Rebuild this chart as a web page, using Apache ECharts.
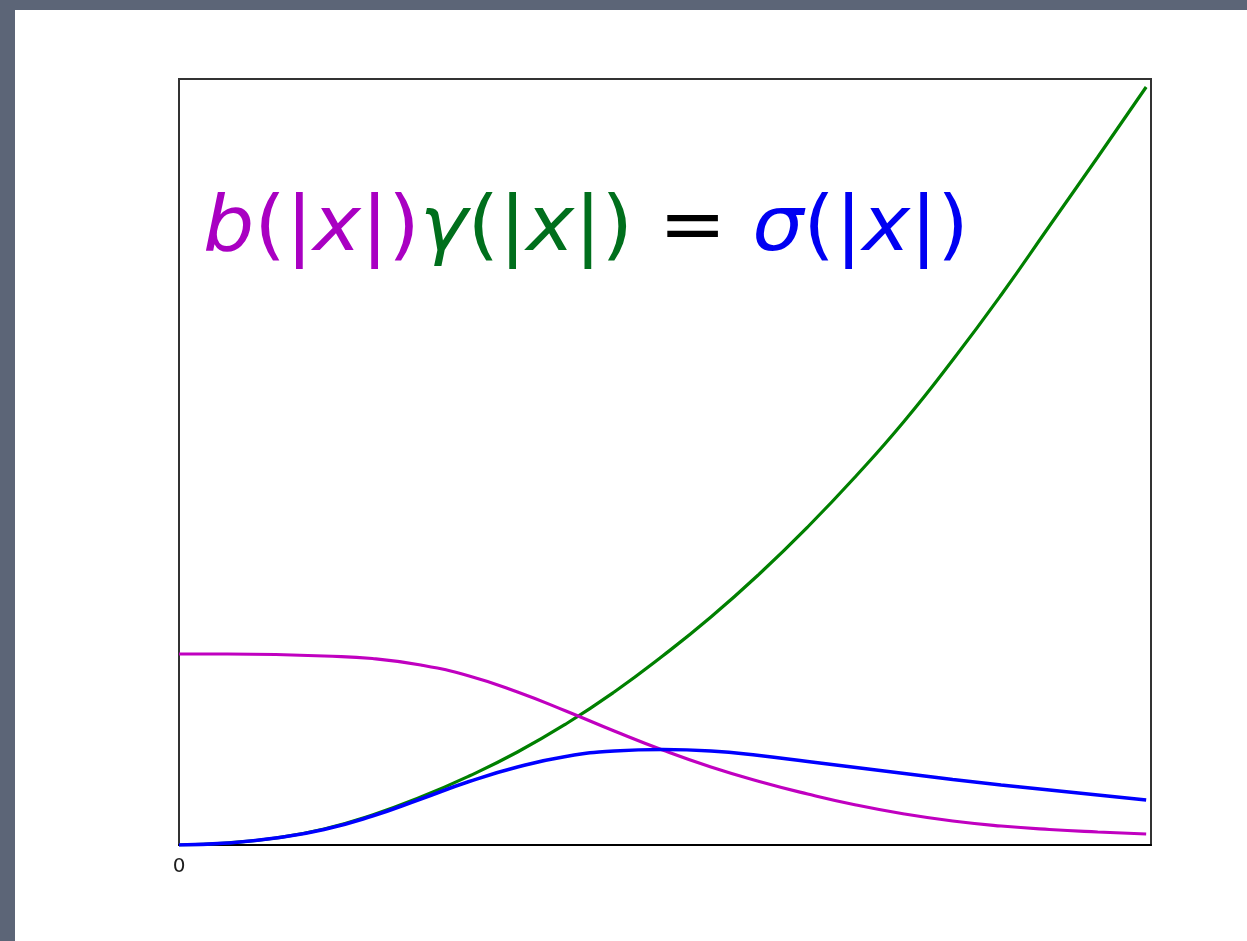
<!DOCTYPE html>
<html>
<head>
<meta charset="utf-8">
<title>b(|x|)γ(|x|) = σ(|x|)</title>
<script src="https://cdn.jsdelivr.net/npm/echarts@6/dist/echarts.min.js"></script>
<style>
  html, body { margin: 0; padding: 0; background: #5c6577; }
  #chart { width: 1247px; height: 941px; }
</style>
</head>
<body>
<div id="chart"></div>
<script>
// Sample positions |x| along the horizontal axis
const xs = [0, 0.5, 1, 1.5, 2, 2.5, 3, 3.5, 4, 4.5, 5, 5.5, 6, 6.5, 7, 7.5, 8, 8.5, 9, 9.5, 10];

// b(|x|): flat plateau, then decays
const bValues = [1.91, 1.91, 1.905, 1.89, 1.865, 1.80, 1.69, 1.53, 1.34, 1.14, 0.95, 0.78, 0.635, 0.51, 0.40, 0.31, 0.24, 0.19, 0.155, 0.13, 0.11];

// γ(|x|): grows roughly quadratically
const gammaValues = [0, 0.02, 0.07, 0.16, 0.30, 0.48, 0.69, 0.93, 1.21, 1.53, 1.89, 2.28, 2.71, 3.18, 3.69, 4.24, 4.85, 5.50, 6.19, 6.88, 7.58];

// σ(|x|): the product, rising to a peak then slowly falling
const sigmaValues = [0, 0.02, 0.07, 0.155, 0.29, 0.46, 0.635, 0.78, 0.885, 0.94, 0.955, 0.94, 0.895, 0.835, 0.775, 0.715, 0.655, 0.60, 0.55, 0.50, 0.45];

// Only the origin carries a tick label
const tickLabels = ['0'];

const pairs = ys => xs.map((x, i) => [x, ys[i]]);

const COLORS = {
  b: '#c000c0',
  gamma: '#008000',
  sigma: '#0000ff',
  bText: '#a900c2',
  gammaText: '#006f1c',
  sigmaText: '#0000f2'
};

const FONT = '"DejaVu Sans", Verdana, sans-serif';
const FS = 77;

const chart = echarts.init(document.getElementById('chart'), null, { renderer: 'canvas' });

const tok = (fill, italic) => ({
  fontFamily: FONT,
  fontSize: FS,
  fontStyle: italic ? 'italic' : 'normal',
  fill: fill,
  lineHeight: 94
});

chart.setOption({
  backgroundColor: '#5c6577',
  animation: false,
  graphic: [
    {
      type: 'rect',
      z: -10,
      shape: { x: 15, y: 10, width: 1232, height: 931 },
      style: { fill: '#ffffff' }
    },
    {
      type: 'text',
      z: 10,
      x: 203,
      y: 230,
      scaleX: 1.05,
      style: {
        text: '{bi|b}{b|(|}{bi|x}{b||)}{gi|γ}{g|(|}{gi|x}{g||)}{k| = }{si|σ}{s|(|}{si|x}{s||)}',
        verticalAlign: 'middle',
        align: 'left',
        fontFamily: FONT,
        fontSize: FS,
        rich: {
          bi: tok(COLORS.bText, true),
          b:  tok(COLORS.bText, false),
          gi: tok(COLORS.gammaText, true),
          g:  tok(COLORS.gammaText, false),
          k:  tok('#000000', false),
          si: tok(COLORS.sigmaText, true),
          s:  tok(COLORS.sigmaText, false)
        }
      }
    }
  ],
  grid: {
    left: 179,
    top: 79,
    right: 96,
    bottom: 96,
    show: true,
    borderColor: '#333333',
    borderWidth: 2,
    backgroundColor: '#ffffff'
  },
  xAxis: {
    type: 'value',
    min: 0,
    max: 10.05,
    interval: 5,
    axisLine: { show: true, onZero: false, lineStyle: { color: '#000000', width: 2 } },
    axisTick: { show: false },
    splitLine: { show: false },
    axisLabel: {
      show: true,
      margin: 12,
      fontFamily: FONT,
      fontSize: 20,
      color: '#1e1e1e',
      formatter: v => (v === 0 ? tickLabels[0] : '')
    }
  },
  yAxis: {
    type: 'value',
    min: 0,
    max: 7.66,
    axisLine: { show: false },
    axisTick: { show: false },
    axisLabel: { show: false },
    splitLine: { show: false }
  },
  series: [
    {
      name: 'γ(|x|)',
      type: 'line',
      data: pairs(gammaValues),
      smooth: 0.5,
      showSymbol: false,
      lineStyle: { color: COLORS.gamma, width: 3.2 },
      z: 2
    },
    {
      name: 'b(|x|)',
      type: 'line',
      data: pairs(bValues),
      smooth: 0.5,
      showSymbol: false,
      lineStyle: { color: COLORS.b, width: 3.2 },
      z: 3
    },
    {
      name: 'σ(|x|)',
      type: 'line',
      data: pairs(sigmaValues),
      smooth: 0.5,
      showSymbol: false,
      lineStyle: { color: COLORS.sigma, width: 3.5 },
      z: 4
    }
  ]
});
</script>
</body>
</html>
